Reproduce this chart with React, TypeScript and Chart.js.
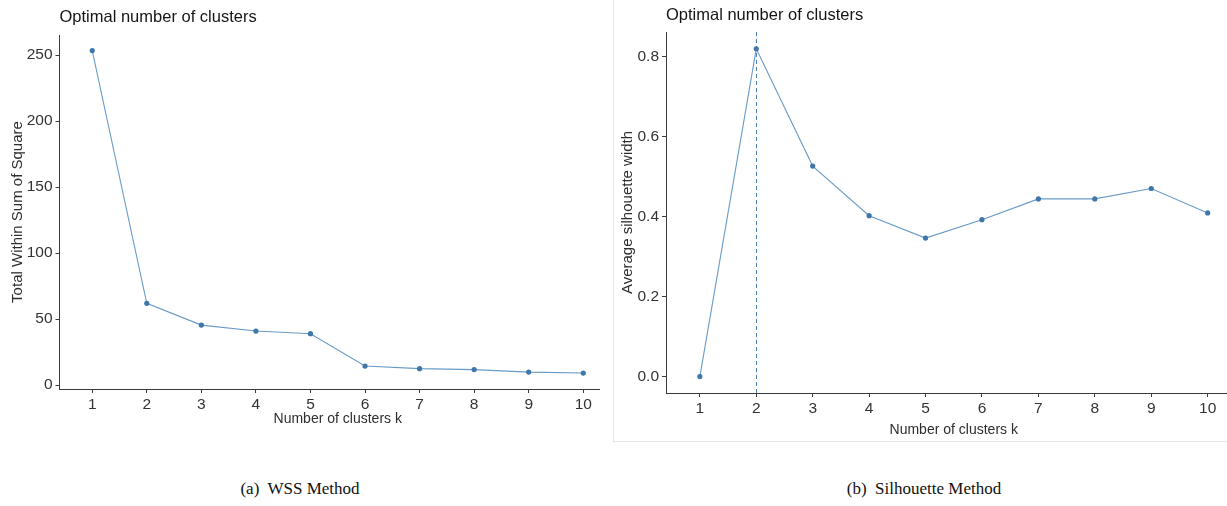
import React, { useEffect, useRef } from "react";
import { Chart, registerables } from "chart.js";

Chart.register(...registerables);

// ---------- data ----------
const kValues = [1, 2, 3, 4, 5, 6, 7, 8, 9, 10];
const wssValues = [253.5, 62, 45.5, 41, 39, 14.5, 12.5, 11.8, 9.9, 9.2];
const silhouetteValues = [0, 0.819, 0.526, 0.402, 0.346, 0.392, 0.444, 0.444, 0.47, 0.409];
const wssTicks = [0, 50, 100, 150, 200, 250];
const silhouetteTicks = [0, 0.2, 0.4, 0.6, 0.8];
const optimalK = 2;
const panelTitle = "Optimal number of clusters";
const xAxisTitle = "Number of clusters k";
const wssAxisTitle = "Total Within Sum of Square";
const silhouetteAxisTitle = "Average silhouette width";
const captionA = "(a)  WSS Method";
const captionB = "(b)  Silhouette Method";

// ---------- styles ----------
const SANS = '"Liberation Sans", Arial, sans-serif';
const LINE_COLOR = "#6a9bc8";
const POINT_COLOR = "#3f77aa";
const AXIS_COLOR = "#3a3a3a";
const TICK_COLOR = "#333333";

type PanelProps = {
  values: number[];
  yTicks: number[];
  yMin: number;
  yMax: number;
  yTitle: string;
  width: number;
  height: number;
  yAxisWidth: number;
  xAxisHeight: number;
  padTop: number;
  padRight: number;
  titleBaseline: number;
  yTitlePad: number;
  xTitlePad: number;
  decimals: number;
  vline?: number;
};

function Panel(p: PanelProps) {
  const ref = useRef<HTMLCanvasElement | null>(null);
  useEffect(() => {
    const canvas = ref.current;
    if (!canvas) return;

    const titlePlugin = {
      id: "panelTitle",
      afterDraw(chart: any) {
        const ctx = chart.ctx;
        ctx.save();
        ctx.font = `16.5px ${SANS}`;
        ctx.fillStyle = "#151515";
        ctx.textBaseline = "alphabetic";
        ctx.textAlign = "left";
        ctx.fillText(panelTitle, chart.chartArea.left, p.titleBaseline);
        ctx.restore();
      },
    };

    const vlinePlugin = {
      id: "optimalLine",
      beforeDatasetsDraw(chart: any) {
        if (p.vline === undefined) return;
        const { ctx, chartArea, scales } = chart;
        const x = Math.round(scales.x.getPixelForValue(p.vline)) + 0.5;
        ctx.save();
        ctx.strokeStyle = "#4a7fb0";
        ctx.lineWidth = 1;
        ctx.setLineDash([4, 3]);
        ctx.beginPath();
        ctx.moveTo(x, chartArea.top);
        ctx.lineTo(x, chartArea.bottom);
        ctx.stroke();
        ctx.restore();
      },
    };

    const chart = new Chart(canvas, {
      type: "line",
      data: {
        datasets: [
          {
            data: kValues.map((k, i) => ({ x: k, y: p.values[i] })),
            borderColor: LINE_COLOR,
            borderWidth: 1.1,
            pointRadius: 2.6,
            pointBackgroundColor: POINT_COLOR,
            pointBorderColor: POINT_COLOR,
            pointBorderWidth: 0,
            tension: 0,
            fill: false,
          },
        ],
      },
      options: {
        animation: false,
        responsive: false,
        devicePixelRatio: 1,
        layout: { padding: { top: p.padTop, right: p.padRight, left: 0, bottom: 0 } },
        plugins: {
          legend: { display: false },
          tooltip: { enabled: false },
          title: { display: false },
        },
        scales: {
          x: {
            type: "linear",
            min: 0.4,
            max: 10.6,
            afterBuildTicks: (s: any) => {
              s.ticks = kValues.map((v) => ({ value: v }));
            },
            afterFit: (s: any) => {
              s.height = p.xAxisHeight;
            },
            grid: {
              drawOnChartArea: false,
              drawTicks: true,
              tickLength: 4,
              color: AXIS_COLOR,
              lineWidth: 1,
            },
            border: { display: true, color: AXIS_COLOR, width: 1 },
            ticks: {
              color: TICK_COLOR,
              font: { family: SANS, size: 15.5 },
              padding: 2,
              maxRotation: 0,
              autoSkip: false,
              callback: (v: any) => String(v),
            },
            title: {
              display: true,
              text: xAxisTitle,
              color: "#2e2e2e",
              font: { family: SANS, size: 14 },
              padding: { top: 0, bottom: p.xTitlePad },
            },
          },
          y: {
            type: "linear",
            min: p.yMin,
            max: p.yMax,
            afterBuildTicks: (s: any) => {
              s.ticks = p.yTicks.map((v) => ({ value: v }));
            },
            afterFit: (s: any) => {
              s.width = p.yAxisWidth;
            },
            grid: {
              drawOnChartArea: false,
              drawTicks: true,
              tickLength: 4,
              color: AXIS_COLOR,
              lineWidth: 1,
            },
            border: { display: true, color: AXIS_COLOR, width: 1 },
            ticks: {
              color: TICK_COLOR,
              font: { family: SANS, size: 15.5 },
              padding: 3,
              autoSkip: false,
              callback: (v: any) => Number(v).toFixed(p.decimals),
            },
            title: {
              display: true,
              text: p.yTitle,
              color: "#2e2e2e",
              font: { family: SANS, size: 15 },
              padding: { top: p.yTitlePad, bottom: 0 },
            },
          },
        },
      },
      plugins: [titlePlugin, vlinePlugin],
    } as any);
    return () => chart.destroy();
  }, []);
  return (
    <canvas
      ref={ref}
      width={p.width}
      height={p.height}
      style={{ display: "block", width: p.width, height: p.height }}
    />
  );
}

const captionStyle: React.CSSProperties = {
  position: "absolute",
  top: 479,
  width: 400,
  textAlign: "center",
  fontFamily: '"Liberation Serif", "Times New Roman", serif',
  fontSize: 17,
  color: "#111",
  whiteSpace: "pre",
};

export default function App() {
  return (
    <div
      style={{
        position: "absolute",
        left: 0,
        top: 0,
        width: 1227,
        height: 506,
        background: "#fff",
        overflow: "hidden",
      }}
    >
      <div style={{ position: "absolute", left: 0, top: 0, width: 600, height: 445, overflow: "hidden" }}>
        <Panel
          values={wssValues}
          yTicks={wssTicks}
          yMin={-2.9}
          yMax={265.3}
          yTitle={wssAxisTitle}
          width={620}
          height={440}
          yAxisWidth={59.5}
          xAxisHeight={51}
          padTop={35}
          padRight={4}
          titleBaseline={22}
          yTitlePad={9}
          xTitlePad={12.6}
          decimals={0}
        />
      </div>
      <div
        style={{
          position: "absolute",
          left: 613,
          top: 0,
          width: 613,
          height: 441,
          overflow: "hidden",
          borderLeft: "1px solid #e6e6e6",
          borderBottom: "1px solid #e6e6e6",
        }}
      >
        <Panel
          values={silhouetteValues}
          yTicks={silhouetteTicks}
          yMin={-0.041}
          yMax={0.861}
          yTitle={silhouetteAxisTitle}
          width={632}
          height={441}
          yAxisWidth={52}
          xAxisHeight={48}
          padTop={32}
          padRight={4.5}
          titleBaseline={20}
          yTitlePad={5}
          xTitlePad={2.6}
          decimals={1}
          vline={optimalK}
        />
      </div>
      <div style={{ ...captionStyle, left: 100 }}>{captionA}</div>
      <div style={{ ...captionStyle, left: 724 }}>{captionB}</div>
    </div>
  );
}
